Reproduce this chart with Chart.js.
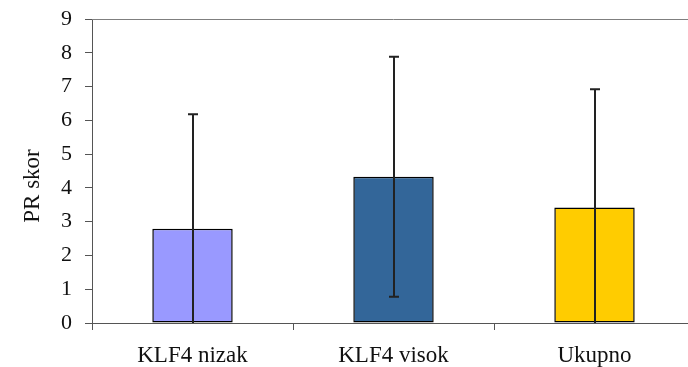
<!DOCTYPE html>
<html>
<head>
<meta charset="utf-8">
<script src="https://cdn.jsdelivr.net/npm/chart.js@4"></script>
<style>
	html, body { margin: 0; padding: 0; background: #fff; overflow: hidden; width: 688px; height: 367px; }
	#wrap { width: 700px; height: 367px; }
</style>
</head>
<body>
<div id="wrap"><canvas id="prChart" width="700" height="367"></canvas></div>
<script>
const categories = ['KLF4 nizak', 'KLF4 visok', 'Ukupno'];
const prValues = [2.79, 4.33, 3.42];
const prErrors = [3.39, 3.55, 3.5];
const barColors = ['#9999FF', '#336699', '#FFCC00'];
const yTicks = [0, 1, 2, 3, 4, 5, 6, 7, 8, 9];
const yTitle = 'PR skor';

// error bars, plot frame and the y title
const errorBarPlugin = {
	id: 'errorBars',
	afterDatasetsDraw(chart) {
		const ctx = chart.ctx;
		const x = chart.scales.x;
		const y = chart.scales.y;
		const area = chart.chartArea;
		ctx.save();
		ctx.strokeStyle = '#7f7f7f';
		ctx.lineWidth = 1;
		ctx.beginPath();
		ctx.moveTo(area.left, area.top + 0.5);
		ctx.lineTo(area.right, area.top + 0.5);
		ctx.lineTo(area.right - 0.5, area.bottom);
		ctx.stroke();

		ctx.strokeStyle = '#222';
		ctx.lineWidth = 2;
		prValues.forEach((v, i) => {
			const cx = Math.round(x.getPixelForValue(i));
			const top = y.getPixelForValue(v + prErrors[i]);
			const lowVal = v - prErrors[i];
			const bottom = y.getPixelForValue(Math.max(lowVal, 0));
			ctx.beginPath();
			ctx.moveTo(cx, top);
			ctx.lineTo(cx, bottom);
			ctx.moveTo(cx - 5, top);
			ctx.lineTo(cx + 5, top);
			if (lowVal > 0) {
				ctx.moveTo(cx - 5, bottom);
				ctx.lineTo(cx + 5, bottom);
			}
			ctx.stroke();
		});

		// y title, sits a bit below the middle like in excel
		ctx.translate(y.left + 33, (area.top + area.bottom) / 2 + 15);
		ctx.rotate(-Math.PI / 2);
		ctx.fillStyle = '#111';
		ctx.font = '23px "Liberation Serif"';
		ctx.textAlign = 'center';
		ctx.textBaseline = 'middle';
		ctx.fillText(yTitle, 0, 0);
		ctx.restore();
	}
};

const ctxPR = document.getElementById('prChart');
const prChart = new Chart(ctxPR, {
	type: 'bar',
	data: {
		labels: categories,
		datasets: [{
			data: prValues,
			backgroundColor: barColors,
			borderColor: '#000',
			borderWidth: 1.5,
			borderSkipped: false,
			categoryPercentage: 0.4,
			barPercentage: 1,
		}],
	},
	options: {
		responsive: false,
		animation: false,
		layout: { padding: { top: 19, right: 5, left: 0, bottom: 0 } },
		plugins: {
			legend: { display: false },
			tooltip: { enabled: false },
		},
		scales: {
			x: {
				afterFit: (scale) => { scale.height = 44; },
				grid: {
					offset: true,
					drawOnChartArea: false,
					tickLength: 7,
					color: '#555',
				},
				border: { color: '#555', width: 1 },
				ticks: {
					color: '#111',
					padding: 12,
					font: { family: 'Liberation Serif', size: 23 },
				},
			},
			y: {
				min: 0,
				max: 9,
				afterFit: (scale) => {
					scale.width = 92;
					scale.paddingTop = 0;
					scale.paddingBottom = 0;
				},
				afterBuildTicks: (scale) => { scale.ticks = yTicks.map(v => ({ value: v })); },
				grid: {
					drawOnChartArea: false,
					tickLength: 7,
					color: '#555',
				},
				border: { color: '#555', width: 1 },
				ticks: {
					color: '#111',
					padding: 13,
					font: { family: 'Liberation Serif', size: 22 },
				},
			},
		},
	},
	plugins: [errorBarPlugin],
});
</script>
</body>
</html>
